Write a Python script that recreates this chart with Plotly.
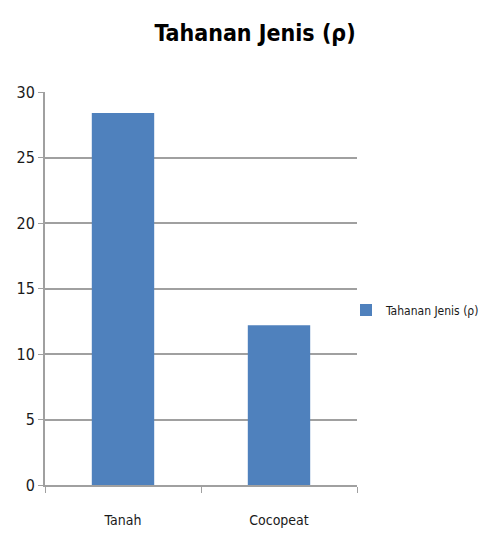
import plotly.graph_objects as go

categories = ["Tanah", "Cocopeat"]
values = [28.4, 12.2]
series_name = "Tahanan Jenis (ρ)"
title_text = "Tahanan Jenis (ρ)"
y_ticks = [0, 5, 10, 15, 20, 25, 30]

FONT = "DejaVu Sans Condensed, Liberation Sans Narrow, sans-serif"

fig = go.Figure()
fig.add_trace(go.Bar(
    x=categories, y=values, name=series_name,
    marker=dict(color="#4F81BD", line=dict(width=0)),
    showlegend=True,
))

fig.update_layout(
    width=484, height=545,
    margin=dict(l=45, r=127, t=92, b=60, autoexpand=False),
    paper_bgcolor="white", plot_bgcolor="white",
    font=dict(family=FONT, color="#1a1a1a", size=14),
    title=dict(text="<b>" + title_text + "</b>", x=255 / 484, xanchor="center",
               y=1 - 33 / 545, yanchor="middle",
               font=dict(family=FONT, size=23, color="black")),
    bargap=0.6,
    showlegend=True,
    legend=dict(xref="container", yref="container", x=346 / 484, y=1 - 310 / 545,
                xanchor="left", yanchor="middle",
                font=dict(family=FONT, size=12, color="#1a1a1a"),
                itemwidth=30, bgcolor="rgba(0,0,0,0)"),
    xaxis=dict(type="category", showline=True, linecolor="#a0a0a0", linewidth=2,
               ticks="outside", tickson="boundaries", ticklen=6, tickcolor="#a0a0a0",
               tickwidth=1, showgrid=False, tickfont=dict(size=14),
               ticklabelstandoff=21),
    yaxis=dict(range=[0, 30], tickvals=y_ticks, showline=True, linecolor="#a0a0a0",
               linewidth=2, ticks="outside", ticklen=5, tickcolor="#a0a0a0",
               showgrid=True, gridcolor="#a0a0a0", gridwidth=2, zeroline=False,
               tickfont=dict(size=16)),
)

fig.write_html("out.html")
